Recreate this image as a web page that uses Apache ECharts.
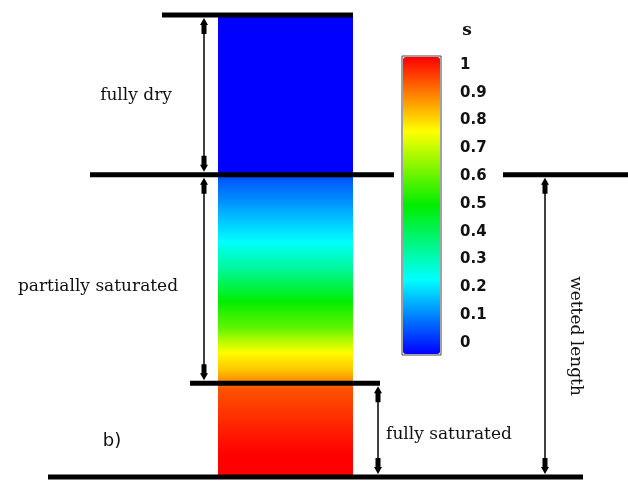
<!DOCTYPE html>
<html>
<head>
<meta charset="utf-8">
<script src="https://cdn.jsdelivr.net/npm/echarts@6/dist/echarts.min.js"></script>
<style>
  html, body { margin: 0; padding: 0; background: #fff; }
  #chart { width: 628px; height: 481px; }
</style>
</head>
<body>
<div id="chart"></div>
<script>
// Saturation profile along the column; depth is measured up from the base (0..100).
const DEPTH = [0, 5, 12, 19, 20.3, 21, 23, 27, 32, 38, 45, 51, 59, 64, 65.4, 65.4, 100];
const SAT = [1, 1, 0.96, 0.92, 0.89, 0.86, 0.81, 0.75, 0.6, 0.5, 0.35, 0.25, 0.15, 0.09, 0.07, 0, 0];

// Zone boundaries: base, top of fully saturated, top of partially saturated, top of column.
const BOUNDARY_DEPTHS = [0, 20.3, 65.4, 100];

// Colour scale
const SCALE_TICKS = ["0", "0.1", "0.2", "0.3", "0.4", "0.5", "0.6", "0.7", "0.8", "0.9", "1"];
const JET = ["#0000ff", "#00ffff", "#00ee00", "#ffff00", "#ff0000"];

// Layout (x in the px-like units of the main grid's x axis)
const COLUMN_X = [218, 353];
const BOUNDARY_SPANS = [
  [[48, 583]],
  [[190, 380]],
  [[90, 394], [503, 628]],
  [[162, 353]],
];
const ARROWS = [
  { x: 204, from: 3, to: 2 },
  { x: 204, from: 2, to: 1 },
  { x: 378, from: 1, to: 0 },
  { x: 545, from: 2, to: 0 },
];
const INK = "#111";
const SERIF = '"DejaVu Serif", serif';

function arrowHead(x, tip, s) {
  // s = +1: points up (body below the tip), s = -1: points down
  return {
    type: "polygon",
    shape: {
      points: [
        [x, tip], [x - 4, tip + s * 7], [x - 2.5, tip + s * 7], [x - 2.5, tip + s * 16],
        [x + 2.5, tip + s * 16], [x + 2.5, tip + s * 7], [x + 4, tip + s * 7],
      ],
    },
    style: { fill: "#000" },
  };
}

function renderProfile(params, api) {
  const i = params.dataIndexInside;
  if (i >= DEPTH.length - 1) return null;
  const p0 = api.coord([COLUMN_X[0], DEPTH[i]]);
  const p1 = api.coord([COLUMN_X[1], DEPTH[i + 1]]);
  if (p0[1] - p1[1] <= 0) return null;
  const c0 = api.visual("color", i);
  const c1 = api.visual("color", i + 1);
  return {
    type: "rect",
    shape: { x: p0[0], y: p1[1] - 0.5, width: p1[0] - p0[0], height: p0[1] - p1[1] + 1 },
    style: {
      fill: new echarts.graphic.LinearGradient(0, 1, 0, 0, [
        { offset: 0, color: c0 },
        { offset: 1, color: c1 },
      ]),
    },
  };
}

function renderBoundary(params, api) {
  const i = params.dataIndex;
  const children = BOUNDARY_SPANS[i].map(([x0, x1]) => {
    const a = api.coord([x0, BOUNDARY_DEPTHS[i]]);
    const b = api.coord([x1, BOUNDARY_DEPTHS[i]]);
    return { type: "rect", shape: { x: a[0], y: a[1] - 2.5, width: b[0] - a[0], height: 5 }, style: { fill: "#000" } };
  });
  return { type: "group", children };
}

function renderArrow(params, api) {
  const a = ARROWS[params.dataIndex];
  const top = api.coord([a.x, BOUNDARY_DEPTHS[a.from]]);
  const bottom = api.coord([a.x, BOUNDARY_DEPTHS[a.to]]);
  const y0 = top[1] + 3;
  const y1 = bottom[1] - 3;
  return {
    type: "group",
    children: [
      { type: "line", shape: { x1: top[0], y1: y0 + 4, x2: top[0], y2: y1 - 4 }, style: { stroke: "#000", lineWidth: 1.5 } },
      arrowHead(top[0], y0, 1),
      arrowHead(top[0], y1, -1),
    ],
  };
}

const chart = echarts.init(document.getElementById("chart"), null, { renderer: "canvas" });

chart.setOption({
  animation: false,
  backgroundColor: "#fff",
  grid: [
    { left: 0, right: 0, top: 15, bottom: 4 },
    { left: 403, width: 37, top: 65, height: 278 },
    { left: 402, width: 39, top: 56, height: 299, show: true, borderColor: "#444", borderWidth: 1, backgroundColor: "transparent" },
  ],
  xAxis: [
    { gridIndex: 0, type: "value", min: 0, max: 628, show: false },
    { gridIndex: 1, type: "value", min: 0, max: 1, show: false },
    { gridIndex: 2, type: "value", min: 0, max: 1, show: false },
  ],
  yAxis: [
    { gridIndex: 0, type: "value", min: 0, max: 100, show: false },
    {
      gridIndex: 1,
      type: "category",
      data: SCALE_TICKS,
      boundaryGap: false,
      position: "right",
      axisLine: { show: false },
      axisTick: { show: false },
      splitLine: { show: false },
      axisLabel: { margin: 20, color: INK, fontFamily: '"DejaVu Sans", sans-serif', fontWeight: "bold", fontSize: 15 },
    },
    { gridIndex: 2, type: "value", min: 0, max: 1, show: false },
  ],
  visualMap: {
    type: "continuous",
    min: 0,
    max: 1,
    dimension: 1,
    seriesIndex: 0,
    calculable: false,
    hoverLink: false,
    text: null,
    left: 403,
    top: 57,
    itemWidth: 37,
    itemHeight: 297,
    padding: 0,
    inRange: { color: JET },
  },
  series: [
    {
      type: "custom",
      name: "saturation",
      xAxisIndex: 0,
      yAxisIndex: 0,
      data: DEPTH.map((d, i) => [d, SAT[i]]),
      renderItem: renderProfile,
      silent: true,
      z: 2,
    },
    {
      type: "custom",
      name: "boundaries",
      xAxisIndex: 0,
      yAxisIndex: 0,
      data: BOUNDARY_DEPTHS.map((d, i) => [i, d]),
      renderItem: renderBoundary,
      silent: true,
      z: 5,
    },
    {
      type: "custom",
      name: "arrows",
      xAxisIndex: 0,
      yAxisIndex: 0,
      data: ARROWS.map((a, i) => [i, BOUNDARY_DEPTHS[a.from], BOUNDARY_DEPTHS[a.to]]),
      renderItem: renderArrow,
      silent: true,
      z: 6,
    },
  ],
  graphic: [
    { type: "text", x: 136, y: 96, style: { text: "fully dry", font: "17px " + SERIF, fill: INK, align: "center", verticalAlign: "middle", textAlign: "center", textVerticalAlign: "middle" } },
    { type: "text", x: 98, y: 287, style: { text: "partially saturated", font: "17px " + SERIF, fill: INK, align: "center", verticalAlign: "middle", textAlign: "center", textVerticalAlign: "middle" } },
    { type: "text", x: 449, y: 435, style: { text: "fully saturated", font: "17px " + SERIF, fill: INK, align: "center", verticalAlign: "middle", textAlign: "center", textVerticalAlign: "middle" } },
    { type: "text", x: 575, y: 336, rotation: -Math.PI / 2, style: { text: "wetted length", font: "17px " + SERIF, fill: INK, align: "center", verticalAlign: "middle", textAlign: "center", textVerticalAlign: "middle" } },
    { type: "text", x: 112, y: 441, style: { text: "b)", font: '18px "DejaVu Sans", sans-serif', fill: INK, align: "center", verticalAlign: "middle", textAlign: "center", textVerticalAlign: "middle" } },
    { type: "text", x: 467, y: 31, style: { text: "s", font: "bold 17px " + SERIF, fill: INK, align: "center", verticalAlign: "middle", textAlign: "center", textVerticalAlign: "middle" } },
  ],
});
</script>
</body>
</html>
